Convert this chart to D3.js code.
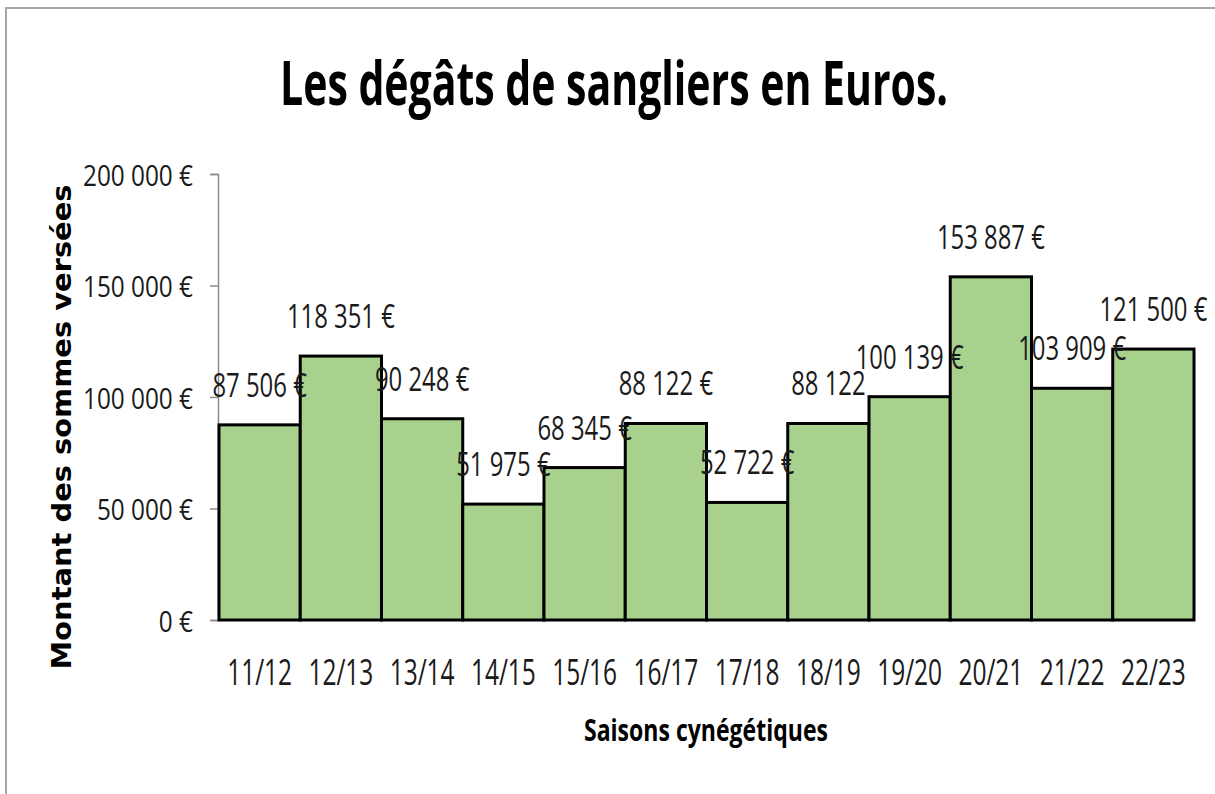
<!DOCTYPE html>
<html>
<head>
<meta charset="utf-8">
<script src="https://cdn.jsdelivr.net/npm/d3@7"></script>
<style>
  body { margin: 0; background: #fff; }
  svg { display: block; }
</style>
</head>
<body>
<div id="chart"></div>
<script>
// saisons et montants verses
var seasons = ["11/12", "12/13", "13/14", "14/15", "15/16", "16/17", "17/18", "18/19", "19/20", "20/21", "21/22", "22/23"];
var amounts = [87506, 118351, 90248, 51975, 68345, 88122, 52722, 88122, 100139, 153887, 103909, 121500];
var labels = ["87 506 €", "118 351 €", "90 248 €", "51 975 €", "68 345 €", "88 122 €", "52 722 €", "88 122", "100 139 €", "153 887 €", "103 909 €", "121 500 €"];
var yTicks = [0, 50000, 100000, 150000, 200000];

var W = 1215, H = 794;
var plotLeft = 219, plotRight = 1194, plotTop = 174, plotBottom = 620;

var svg = d3.select("#chart").append("svg")
    .attr("width", W)
    .attr("height", H);

// cadre
svg.append("path")
    .attr("d", "M6," + H + "V8H" + W)
    .attr("fill", "none")
    .attr("stroke", "#a6a6a6")
    .attr("stroke-width", 2);

var x = d3.scaleBand().domain(seasons).range([plotLeft, plotRight]).padding(0);
var y = d3.scaleLinear().domain([0, 200000]).range([plotBottom, plotTop]);

// squeeze text horizontally, like the narrow font of the original
function squeeze(sel, k) {
  sel.each(function () {
    var len = this.getComputedTextLength();
    d3.select(this).attr("textLength", len * k).attr("lengthAdjust", "spacingAndGlyphs");
  });
}
function ratio(sel, sample, target) {
  var t = svg.append("text").attr("font-family", sel.attr("font-family"))
      .attr("font-size", sel.attr("font-size")).attr("font-weight", sel.attr("font-weight"))
      .text(sample);
  var len = t.node().getComputedTextLength();
  t.remove();
  return target / len;
}

// titre
var title = svg.append("text")
    .attr("x", 614)
    .attr("y", 105)
    .attr("text-anchor", "middle")
    .attr("font-family", "Open Sans")
    .attr("font-weight", "bold")
    .attr("font-size", 60)
    .text("Les dégâts de sangliers en Euros.");
title.attr("textLength", 668).attr("lengthAdjust", "spacingAndGlyphs");

// axe y
var fmt = function (d) { return d3.format(",")(d).replace(/,/g, " ") + " €"; };
var yAxis = svg.append("g")
    .attr("transform", "translate(" + (plotLeft - 1) + ",0)")
    .call(d3.axisLeft(y).tickValues(yTicks).tickSize(8).tickPadding(17).tickFormat(fmt));
yAxis.select(".domain").attr("stroke", "#8c8c8c").attr("stroke-width", 1.5);
yAxis.selectAll(".tick line").attr("stroke", "#8c8c8c").attr("stroke-width", 1.5);
var yText = yAxis.selectAll(".tick text")
    .attr("font-family", "Open Sans")
    .attr("font-size", 29)
    .attr("font-weight", "normal")
    .attr("fill", "#1a1a1a")
    .attr("dy", "0.38em");
squeeze(yText, ratio(d3.select(yText.node()), "200 000 €", 110));

// barres
svg.append("g").selectAll("rect")
    .data(amounts)
    .join("rect")
    .attr("x", function (d, i) { return x(seasons[i]); })
    .attr("y", function (d) { return y(d); })
    .attr("width", x.bandwidth())
    .attr("height", function (d) { return y(0) - y(d); })
    .attr("fill", "#a9d18e")
    .attr("stroke", "#000")
    .attr("stroke-width", 3);

// etiquettes de donnees
var dl = svg.append("g").selectAll("text")
    .data(amounts)
    .join("text")
    .attr("x", function (d, i) { return x(seasons[i]) + x.bandwidth() / 2; })
    .attr("y", function (d) { return y(d) - 28; })
    .attr("text-anchor", "middle")
    .attr("font-family", "Open Sans")
    .attr("font-size", 32)
    .attr("fill", "#1a1a1a")
    .text(function (d, i) { return labels[i]; });
squeeze(dl, ratio(d3.select(dl.node()), "118 351 €", 108));

// axe x
var xAxis = svg.append("g")
    .attr("transform", "translate(0," + plotBottom + ")")
    .call(d3.axisBottom(x).tickSize(0).tickPadding(0));
xAxis.select(".domain").remove();
var xText = xAxis.selectAll(".tick text")
    .attr("font-family", "Open Sans")
    .attr("font-size", 37)
    .attr("fill", "#1a1a1a")
    .attr("dy", 65);
squeeze(xText, ratio(d3.select(xText.node()), "11/12", 65));

// titres des axes
svg.append("text")
    .attr("x", 706)
    .attr("y", 741)
    .attr("text-anchor", "middle")
    .attr("font-family", "Open Sans")
    .attr("font-weight", "bold")
    .attr("font-size", 30)
    .attr("textLength", 244)
    .attr("lengthAdjust", "spacingAndGlyphs")
    .text("Saisons cynégétiques");

svg.append("text")
    .attr("transform", "translate(71,427) rotate(-90)")
    .attr("text-anchor", "middle")
    .attr("font-family", "DejaVu Sans")
    .attr("font-weight", "bold")
    .attr("font-size", 27)
    .attr("textLength", 485)
    .attr("lengthAdjust", "spacingAndGlyphs")
    .text("Montant des sommes versées");
</script>
</body>
</html>
